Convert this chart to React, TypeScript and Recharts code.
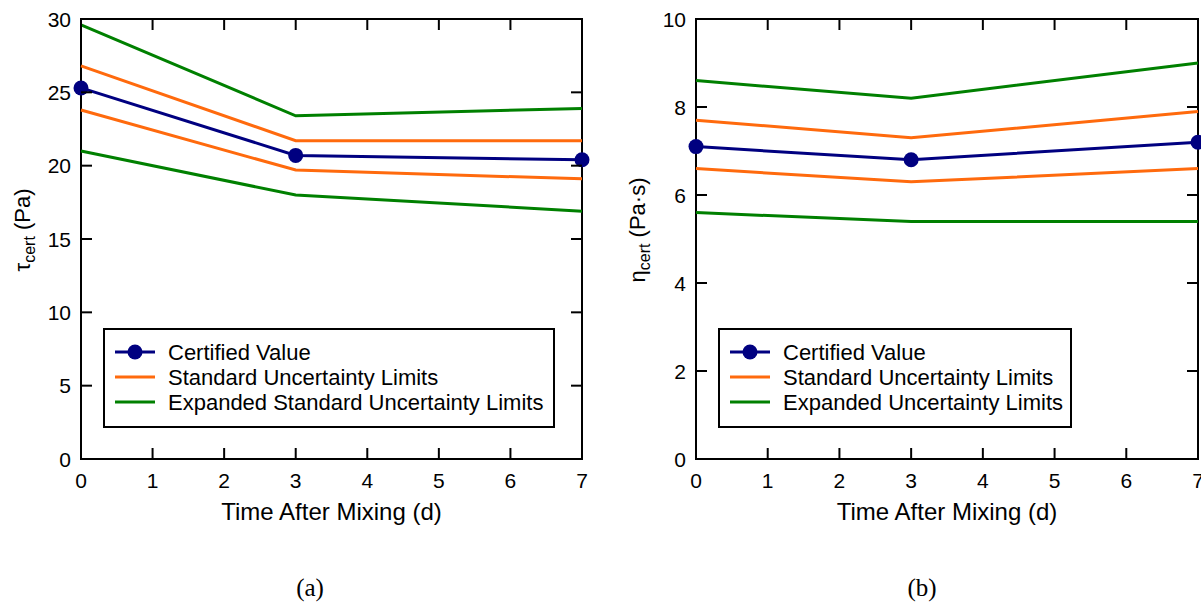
import React from 'react';
import { LineChart, Line, XAxis, YAxis, ReferenceArea, Legend, Label } from 'recharts';

// Days after mixing at which the reference material was measured
const DAYS = [0, 3, 7];
const X_TICKS = [0, 1, 2, 3, 4, 5, 6, 7];

// (a) yield stress, Pa
const TAU_CERT = [25.3, 20.7, 20.4];
const TAU_STD_UPPER = [26.8, 21.7, 21.7];
const TAU_STD_LOWER = [23.8, 19.7, 19.1];
const TAU_EXP_UPPER = [29.6, 23.4, 23.9];
const TAU_EXP_LOWER = [21.0, 18.0, 16.9];
const TAU_TICKS = [0, 5, 10, 15, 20, 25, 30];

// (b) plastic viscosity, Pa·s
const ETA_CERT = [7.1, 6.8, 7.2];
const ETA_STD_UPPER = [7.7, 7.3, 7.9];
const ETA_STD_LOWER = [6.6, 6.3, 6.6];
const ETA_EXP_UPPER = [8.6, 8.2, 9.0];
const ETA_EXP_LOWER = [5.6, 5.4, 5.4];
const ETA_TICKS = [0, 2, 4, 6, 8, 10];

const LABEL_CERT = 'Certified Value';
const LABEL_STD = 'Standard Uncertainty Limits';
const LABEL_EXP_A = 'Expanded Standard Uncertainty Limits';
const LABEL_EXP_B = 'Expanded Uncertainty Limits';
const X_TITLE = 'Time After Mixing (d)';

const NAVY = '#000080';
const ORANGE = '#ff6a0d';
const GREEN = '#008000';
const FONT = '"Liberation Sans", Arial, Helvetica, sans-serif';

const H = 604;
const PLOT_TOP = 19;
const PLOT_BOTTOM = 459;
const X_AXIS_H = 30;
const TICK_LEN = 11;

type PanelProps = {
  left: number;
  width: number;
  axisWidth: number;
  rightMargin: number;
  cert: number[];
  stdUpper: number[];
  stdLower: number[];
  expUpper: number[];
  expLower: number[];
  yMax: number;
  yTicks: number[];
  symbol: string;
  unit: string;
  expLabel: string;
  legendLeft: number;
  legendWidth: number;
};

const RANK: Record<string, number> = { cert: 0, stdUpper: 1, expUpper: 2 };

function LegendBox(props: any) {
  const { payload, width } = props;
  const items = (payload || [])
    .filter((it: any) => it.type !== 'none' && it.dataKey in RANK)
    .sort((a: any, b: any) => RANK[a.dataKey] - RANK[b.dataKey]);
  return (
    <div
      style={{
        boxSizing: 'border-box',
        width,
        height: 100,
        border: '2px solid #000',
        background: '#fff',
        padding: '9.5px 0 11.5px 10px',
        fontFamily: FONT,
        fontSize: 22,
        color: '#000',
      }}
    >
      {items.map((it: any) => (
        <div key={it.dataKey} style={{ display: 'flex', alignItems: 'center', height: 25, lineHeight: '25px', whiteSpace: 'nowrap' }}>
          <svg width={40} height={18} style={{ marginRight: 13, flex: 'none' }}>
            <line x1={0} y1={9} x2={40} y2={9} stroke={it.color} strokeWidth={3} />
            {it.dataKey === 'cert' && <circle cx={20} cy={9} r={7.5} fill={it.color} />}
          </svg>
          <span>{it.value}</span>
        </div>
      ))}
    </div>
  );
}

function Panel(p: PanelProps) {
  const rows = DAYS.map((day, i) => ({
    day,
    cert: p.cert[i],
    stdUpper: p.stdUpper[i],
    stdLower: p.stdLower[i],
    expUpper: p.expUpper[i],
    expLower: p.expLower[i],
  }));
  const plotRight = p.width - p.rightMargin;

  const xTick = (t: any) => (
    <g>
      <line x1={t.x} y1={t.y} x2={t.x} y2={t.y - TICK_LEN} stroke="#000" strokeWidth={2} />
      <line x1={t.x} y1={PLOT_TOP} x2={t.x} y2={PLOT_TOP + TICK_LEN} stroke="#000" strokeWidth={2} />
      <text x={t.x} y={t.y + 29} textAnchor="middle" fontFamily={FONT} fontSize={21} fill="#000">
        {t.payload.value}
      </text>
    </g>
  );

  const yTick = (t: any) => (
    <g>
      <line x1={t.x} y1={t.y} x2={t.x + TICK_LEN} y2={t.y} stroke="#000" strokeWidth={2} />
      <line x1={plotRight - TICK_LEN} y1={t.y} x2={plotRight} y2={t.y} stroke="#000" strokeWidth={2} />
      <text x={t.x - 10} y={t.y + 7.5} textAnchor="end" fontFamily={FONT} fontSize={21} fill="#000">
        {t.payload.value}
      </text>
    </g>
  );

  const xTitle = (lp: any) => {
    const vb = lp.viewBox;
    return (
      <text x={vb.x + vb.width / 2} y={vb.y + 61} textAnchor="middle" fontFamily={FONT} fontSize={24} fill="#000">
        {X_TITLE}
      </text>
    );
  };

  const yTitle = () => {
    const cx = p.axisWidth - 51;
    const cy = 230;
    return (
      <text
        x={cx}
        y={cy}
        transform={`rotate(-90 ${cx} ${cy})`}
        textAnchor="middle"
        fontFamily={FONT}
        fontSize={22}
        fill="#000"
      >
        {p.symbol}
        <tspan fontSize={16} dy={5}>cert</tspan>
        <tspan dy={-5}>{` (${p.unit})`}</tspan>
      </text>
    );
  };

  return (
    <div style={{ position: 'absolute', left: p.left, top: 0 }}>
      <LineChart
        width={p.width}
        height={H}
        data={rows}
        margin={{ top: PLOT_TOP, right: p.rightMargin, bottom: H - PLOT_BOTTOM - X_AXIS_H, left: 0 }}
      >
        <XAxis
          dataKey="day"
          type="number"
          domain={[0, 7]}
          ticks={X_TICKS}
          interval={0}
          height={X_AXIS_H}
          axisLine={false}
          tickLine={false}
          tickSize={0}
          tickMargin={0}
          tick={xTick}
        >
          <Label content={xTitle} />
        </XAxis>
        <YAxis
          type="number"
          domain={[0, p.yMax]}
          ticks={p.yTicks}
          interval={0}
          width={p.axisWidth}
          axisLine={false}
          tickLine={false}
          tickSize={0}
          tickMargin={0}
          tick={yTick}
        >
          <Label content={yTitle} />
        </YAxis>
        <ReferenceArea x1={0} x2={7} y1={0} y2={p.yMax} fill="none" fillOpacity={0} stroke="#000" strokeWidth={2} />
        <Legend
          layout="horizontal"
          verticalAlign="middle"
          align="center"
          content={(lp: any) => <LegendBox {...lp} width={p.legendWidth} />}
          wrapperStyle={{ left: p.legendLeft, top: 328, width: p.legendWidth, height: 100 }}
        />
        <Line
          dataKey="cert"
          name={LABEL_CERT}
          type="linear"
          stroke={NAVY}
          strokeWidth={3}
          dot={{ r: 7.5, fill: NAVY, stroke: NAVY, strokeWidth: 0 }}
          activeDot={false}
          legendType="circle"
          isAnimationActive={false}
        />
        <Line dataKey="stdUpper" name={LABEL_STD} type="linear" stroke={ORANGE} strokeWidth={3} dot={false} activeDot={false} legendType="line" isAnimationActive={false} />
        <Line dataKey="expUpper" name={p.expLabel} type="linear" stroke={GREEN} strokeWidth={3} dot={false} activeDot={false} legendType="line" isAnimationActive={false} />
        <Line dataKey="stdLower" name={LABEL_STD} type="linear" stroke={ORANGE} strokeWidth={3} dot={false} activeDot={false} legendType="none" isAnimationActive={false} />
        <Line dataKey="expLower" name={p.expLabel} type="linear" stroke={GREEN} strokeWidth={3} dot={false} activeDot={false} legendType="none" isAnimationActive={false} />
      </LineChart>
    </div>
  );
}

export default function App() {
  return (
    <div style={{ position: 'absolute', left: 0, top: 0, width: 1201, height: H, background: '#fff', overflow: 'hidden' }}>
      <svg width={1201} height={H} style={{ position: 'absolute', left: 0, top: 0 }}>
        <text x={310} y={596} textAnchor="middle" fontFamily='"Liberation Serif", "Times New Roman", serif' fontSize={25} fill="#000">(a)</text>
        <text x={922} y={596} textAnchor="middle" fontFamily='"Liberation Serif", "Times New Roman", serif' fontSize={25} fill="#000">(b)</text>
      </svg>
      <Panel
        left={0}
        width={600}
        axisWidth={81}
        rightMargin={18}
        cert={TAU_CERT}
        stdUpper={TAU_STD_UPPER}
        stdLower={TAU_STD_LOWER}
        expUpper={TAU_EXP_UPPER}
        expLower={TAU_EXP_LOWER}
        yMax={30}
        yTicks={TAU_TICKS}
        symbol="τ"
        unit="Pa"
        expLabel={LABEL_EXP_A}
        legendLeft={103}
        legendWidth={452}
      />
      <Panel
        left={600}
        width={601}
        axisWidth={96}
        rightMargin={3}
        cert={ETA_CERT}
        stdUpper={ETA_STD_UPPER}
        stdLower={ETA_STD_LOWER}
        expUpper={ETA_EXP_UPPER}
        expLower={ETA_EXP_LOWER}
        yMax={10}
        yTicks={ETA_TICKS}
        symbol="η"
        unit="Pa·s"
        expLabel={LABEL_EXP_B}
        legendLeft={118}
        legendWidth={354}
      />
    </div>
  );
}
